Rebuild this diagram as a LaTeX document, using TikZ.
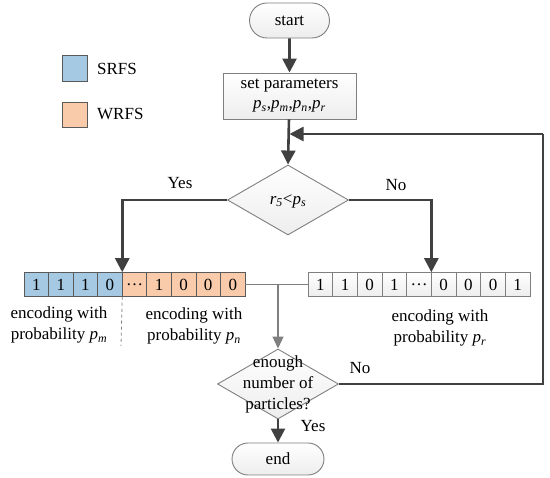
\documentclass[tikz,border=0pt]{standalone}
\usepackage{fontspec}
\setmainfont{Liberation Serif}
\usetikzlibrary{arrows.meta,shapes.geometric,shapes.misc}
\definecolor{dk}{HTML}{404040}
\definecolor{ln}{HTML}{7F7F7F}
\definecolor{cb}{HTML}{5A5A5A}
\definecolor{bl}{HTML}{A6C9E3}
\definecolor{og}{HTML}{F9CBAB}
\newcommand{\iv}[2]{\textit{#1}\textsubscript{\textit{#2}}}
\begin{document}
\begin{tikzpicture}[x=1pt,y=-1pt,
  every node/.style={font=\fontsize{17}{21}\selectfont},
  boxsh/.style={draw=ln, line width=0.9pt, top color=white, bottom color=gray!14},
  term/.style={boxsh, rounded rectangle, inner sep=0pt},
  procbox/.style={boxsh, rectangle, inner sep=0pt, minimum width=133pt, minimum height=46pt, align=center},
  decis/.style={boxsh, diamond, inner sep=0pt, minimum width=121pt, minimum height=70pt},
  thickarr/.style={draw=dk, line width=2.6pt, -{Triangle[width=14pt,length=14pt]}},
  thickline/.style={draw=dk, line width=2.6pt},
  thinline/.style={draw=ln, line width=1.1pt},
  thinarr/.style={draw=ln, line width=1.1pt, -{Triangle[width=11pt,length=12pt]}},
  cell/.style={draw=cb, line width=0.8pt, inner sep=0pt, outer sep=0pt, minimum height=24.5pt},
  gcell/.style={draw=ln, line width=0.8pt, inner sep=0pt, outer sep=0pt, minimum height=24.5pt, top color=white, bottom color=gray!14},
  lab/.style={inner sep=0pt, align=center}
]
\useasboundingbox (0,0) rectangle (550,478);

% legend
\node[cell, fill=bl, minimum width=25pt, minimum height=26pt] (lgb) at (74.5,68) {};
\node[anchor=west, inner sep=0pt] (lgbt) at (97,69) {SRFS};
\node[cell, fill=og, minimum width=25pt, minimum height=25pt] (lgo) at (74.5,115) {};
\node[anchor=west, inner sep=0pt] (lgot) at (97,114) {WRFS};

% main nodes
\node[term, minimum width=80pt, minimum height=35pt] (start) at (289.5,20.5) {start};
\node[procbox] (params) at (289.5,96) {set parameters\\[-1pt]\iv{p}{s},\iv{p}{m},\iv{p}{n},\iv{p}{r}};
\node[decis, minimum width=121pt, minimum height=70pt] (d1) at (288,200) {};
\node[inner sep=0pt] (d1t) at (288,201) {\iv{r}{5}<\iv{p}{s}};

% left array
\foreach \v [count=\i] in {1,1,1,0,…,1,0,0,0} {
  \pgfmathsetmacro\cx{24+24.56*(\i-0.5)}
  \ifnum\i<5 \def\cf{bl}\else\def\cf{og}\fi
  \node[cell, fill=\cf, minimum width=24.56pt] (L\i) at (\cx,284.5) {\v};
}
% right array
\foreach \v [count=\i] in {1,1,0,1,…,0,0,0,1} {
  \pgfmathsetmacro\cx{308+24.67*(\i-0.5)}
  \node[gcell, minimum width=24.67pt] (R\i) at (\cx,284.5) {\v};
}

\node[decis, minimum width=121pt, minimum height=70pt] (d2) at (278,384) {};
\node[lab] (d2t) at (278,384) {enough\\number of\\particles?};
\node[term, minimum width=92pt, minimum height=32pt] (end) at (278,459) {end};

% labels
\node[lab] (la) at (59,325) {encoding with\\probability \iv{p}{m}};
\node[lab] (lb) at (194,326) {encoding with\\probability \iv{p}{n}};
\node[lab] (lc) at (440,328) {encoding with\\probability \iv{p}{r}};
\node[inner sep=0pt] (yes1) at (180,183) {Yes};
\node[inner sep=0pt] (no1) at (396,185) {No};
\node[inner sep=0pt] (no2) at (360,368) {No};
\node[inner sep=0pt] (yes2) at (313,426) {Yes};

% connectors
\draw[thickarr] (start) -- (params);
\draw[thickarr] (params) -- (d1.north);
\draw[thickarr] (d1.west) -| (L4.north east);
\draw[thickarr] (d1.east) -| (R5.north east);
\coordinate (lp) at (543,134);
\draw[thickline] (d2.east) -| (lp);
\draw[thickarr] (lp) -- (params.south |- lp);
\draw[thickarr] (d2.south) -- (end.north);

\draw[thinline] (L9.east) -- (R1.west);
\coordinate (j) at (d2.north |- L9.east);
\draw[thinarr] (j) -- (d2.north);
\coordinate (dend) at (121,346);
\draw[ln, line width=0.8pt, dashed] (L4.south east) -- (dend);
\end{tikzpicture}
\end{document}
